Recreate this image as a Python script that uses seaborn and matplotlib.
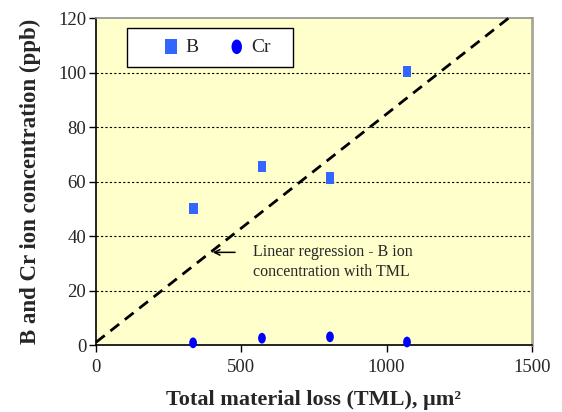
import numpy as np
import pandas as pd
import matplotlib
matplotlib.use("Agg")
import matplotlib.pyplot as plt
from matplotlib.path import Path
from matplotlib.patches import Rectangle
from matplotlib.transforms import Affine2D
import seaborn as sns

# values
tml = [334, 571, 805, 1070]
b_ppb = [50.0, 65.5, 61.3, 100.3]
cr_ppb = [0.8, 2.5, 3.0, 1.1]

# regression line drawn in the original (slope / intercept as shown)
fit_slope = 0.0838
fit_intercept = 1.0
fit_x = [0, 1420]

x_ticks = [0, 500, 1000, 1500]
y_ticks = [0, 20, 40, 60, 80, 100, 120]

sns.set_style("ticks")
plt.rcParams["font.family"] = ["Liberation Serif", "DejaVu Serif"]

df = pd.DataFrame({"tml": tml * 2,
                   "conc": b_ppb + cr_ppb,
                   "ion": ["B"] * 4 + ["Cr"] * 4})
fit_df = pd.DataFrame({"x": fit_x})
fit_df["y"] = fit_intercept + fit_slope * fit_df["x"]

# slightly tall rectangle / oval markers like the original
rect = Path.unit_rectangle().transformed(Affine2D().translate(-0.5, -0.5).scale(0.8, 1.0))
oval = Path.unit_circle().transformed(Affine2D().scale(0.72, 1.0))

fig = plt.figure(figsize=(5.62, 4.12), dpi=100)
ax = fig.add_axes([0.1708, 0.1626, 0.7758, 0.7937])
ax.set_facecolor("#ffffcc")

for y in y_ticks[1:-1]:
    ax.axhline(y, color="black", lw=0.8, ls=(0, (2, 2)), zorder=1)

sns.lineplot(data=fit_df, x="x", y="y", ax=ax, color="black", lw=2,
             dashes=False, zorder=3, clip_on=False)
ax.lines[-1].set_dashes((4, 2.6))

sns.scatterplot(data=df[df.ion == "B"], x="tml", y="conc", ax=ax,
                marker=rect, s=64, color="#3366ff", edgecolor="none",
                zorder=4, label="B")
sns.scatterplot(data=df[df.ion == "Cr"], x="tml", y="conc", ax=ax,
                marker=oval, s=60, color="#0000ff", edgecolor="none",
                zorder=4, label="Cr", clip_on=False)

ax.set_xlim(0, 1500)
ax.set_ylim(0, 120)
ax.set_xticks(x_ticks)
ax.set_yticks(y_ticks)
ax.tick_params(labelsize=13.5, length=5, width=1, color="black")
ax.tick_params(axis="x", pad=5)
ax.tick_params(axis="y", pad=2)

ax.spines["left"].set_color("black")
ax.spines["bottom"].set_color("black")
ax.spines["left"].set_linewidth(1.2)
ax.spines["bottom"].set_linewidth(1.2)
ax.spines["right"].set_visible(True)
ax.spines["top"].set_visible(True)
ax.spines["right"].set_color("#a8a898")
ax.spines["right"].set_linewidth(2)
ax.spines["top"].set_color("#909090")
ax.spines["top"].set_linewidth(1.2)
ax.spines["top"].set_linestyle((0, (2, 1)))

ax.set_xlabel("Total material loss (TML), \u03bcm\u00b2", fontsize=16,
              fontweight="bold", labelpad=10)
ax.set_ylabel("B and Cr ion concentration (ppb)", fontsize=16.5,
              fontweight="bold", labelpad=12)

# legend box like the original: plain black rectangle, entries in one row
ax.add_patch(Rectangle((0.071, 0.850), 0.381, 0.119, transform=ax.transAxes,
                       facecolor="white", edgecolor="black", lw=1.0, zorder=5))
leg = ax.legend(loc="center left", bbox_to_anchor=(0.150, 0.911), ncol=2,
                fontsize=14, frameon=False, handlelength=1.0,
                handletextpad=0.25, columnspacing=1.45, borderpad=0,
                borderaxespad=0, markerscale=1.35)
leg.set_zorder(6)

ax.annotate("", xy=(392, 34), xytext=(488, 34),
            arrowprops=dict(arrowstyle="->", color="black", lw=1.1))
ax.text(540, 30.5, "Linear regression - B ion\nconcentration with TML",
        fontsize=11.5, va="center", ha="left", linespacing=1.3)

fig.savefig("out.png", dpi=100)
